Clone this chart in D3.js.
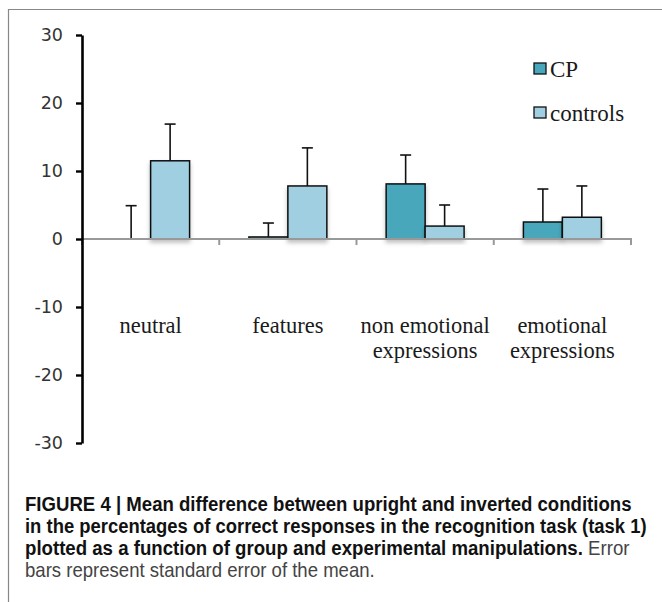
<!DOCTYPE html>
<html>
<head>
<meta charset="utf-8">
<script src="https://cdn.jsdelivr.net/npm/d3@7"></script>
<style>
  body { margin: 0; background: #fff; }
  svg { display: block; }
</style>
</head>
<body>
<svg id="chart" width="662" height="602"></svg>
<script>
// data
var categories = ["neutral", "features", "non emotional expressions", "emotional expressions"];
var categoryLines = [["neutral"], ["features"], ["non emotional", "expressions"], ["emotional", "expressions"]];
var groups = ["CP", "controls"];
var cpMeans = [0, 0.3, 8.1, 2.5];
var cpErrors = [4.9, 2.05, 4.25, 4.85];
var controlsMeans = [11.5, 7.8, 1.9, 3.2];
var controlsErrors = [5.4, 5.6, 3.1, 4.6];
var yTicks = [-30, -20, -10, 0, 10, 20, 30];
var captionLines = [
  [{ t: "FIGURE 4 | Mean difference between upright and inverted conditions", b: true }],
  [{ t: "in the percentages of correct responses in the recognition task (task 1)", b: true }],
  [{ t: "plotted as a function of group and experimental manipulations.", b: true }, { t: " Error", b: false }],
  [{ t: "bars represent standard error of the mean.", b: false }]
];

var colors = { CP: "#49a7bc", controls: "#9fcfe1" };

var svg = d3.select("#chart");

// frame (top + left edges only, like the cropped figure)
svg.append("path")
  .attr("d", "M8.5,602V9.5H662")
  .attr("fill", "none")
  .attr("stroke", "#888")
  .attr("stroke-width", 1.2);

// scales
var y = d3.scaleLinear().domain([-30, 30]).range([443, 35]);
var x0 = d3.scaleBand()
  .domain(categories)
  .range([82, 631])
  .paddingInner(0.432)
  .paddingOuter(0.216);
var x1 = d3.scaleBand().domain(groups).range([0, x0.bandwidth()]);

// soft shadow under bars
var defs = svg.append("defs");
var f = defs.append("filter").attr("id", "shadow")
  .attr("x", "-20%").attr("y", "-20%").attr("width", "140%").attr("height", "160%");
f.append("feDropShadow")
  .attr("dx", 0).attr("dy", 3).attr("stdDeviation", 2)
  .attr("flood-color", "#000").attr("flood-opacity", 0.25);

// rows per bar
var rows = [];
categories.forEach(function (c, i) {
  rows.push({ cat: c, group: "CP", mean: cpMeans[i], err: cpErrors[i] });
  rows.push({ cat: c, group: "controls", mean: controlsMeans[i], err: controlsErrors[i] });
});

// error bars (only upper half)
var eb = svg.append("g").attr("class", "errors");
rows.forEach(function (d) {
  var cx = x0(d.cat) + x1(d.group) + x1.bandwidth() / 2;
  eb.append("line")
    .attr("x1", cx).attr("x2", cx)
    .attr("y1", y(d.mean)).attr("y2", y(d.mean + d.err))
    .attr("stroke", "#111").attr("stroke-width", 1.6);
  eb.append("line")
    .attr("x1", cx - 5.5).attr("x2", cx + 5.5)
    .attr("y1", y(d.mean + d.err)).attr("y2", y(d.mean + d.err))
    .attr("stroke", "#111").attr("stroke-width", 1.6);
});

// bars
svg.append("g")
  .attr("class", "bars")
  .selectAll("rect")
  .data(rows)
  .enter()
  .append("rect")
  .attr("x", function (d) { return x0(d.cat) + x1(d.group); })
  .attr("y", function (d) { return y(Math.max(0, d.mean)); })
  .attr("width", x1.bandwidth())
  .attr("height", function (d) { return Math.abs(y(d.mean) - y(0)); })
  .attr("fill", function (d) { return colors[d.group]; })
  .attr("stroke", "#111")
  .attr("stroke-width", 1.5)
  .attr("filter", "url(#shadow)");

// x axis: gray baseline with category separators
var xa = svg.append("g").attr("class", "x-axis");
var r = x0.range();
xa.append("line")
  .attr("x1", r[0]).attr("x2", r[1] + 1)
  .attr("y1", y(0)).attr("y2", y(0))
  .attr("stroke", "#999").attr("stroke-width", 2);
xa.selectAll(".sep")
  .data(d3.range(categories.length + 1))
  .enter()
  .append("line")
  .attr("class", "sep")
  .attr("x1", function (i) { return r[0] + i * x0.step(); })
  .attr("x2", function (i) { return r[0] + i * x0.step(); })
  .attr("y1", y(0)).attr("y2", y(0) + 6)
  .attr("stroke", "#999").attr("stroke-width", 2);

// category labels (below, in the negative region)
var labels = svg.append("g").attr("class", "cat-labels")
  .attr("font-family", "'Liberation Serif', 'DejaVu Serif', serif")
  .attr("font-size", 22.5)
  .attr("fill", "#1a1a1a")
  .attr("text-anchor", "middle");
categories.forEach(function (c, i) {
  var t = labels.append("text")
    .attr("x", x0(c) + x0.bandwidth() / 2)
    .attr("y", 333);
  categoryLines[i].forEach(function (line, j) {
    t.append("tspan")
      .attr("x", x0(c) + x0.bandwidth() / 2)
      .attr("dy", j === 0 ? 0 : 25)
      .text(line);
  });
});

// y axis
var yAxis = d3.axisLeft(y)
  .tickValues(yTicks)
  .tickFormat(function (d) { return String(d); })
  .tickSize(6)
  .tickSizeOuter(0)
  .tickPadding(13);
var ya = svg.append("g")
  .attr("transform", "translate(82,0)")
  .call(yAxis);
ya.select(".domain").attr("stroke", "#000").attr("stroke-width", 2.6);
ya.selectAll(".tick line").attr("stroke", "#000").attr("stroke-width", 2.4);
ya.selectAll(".tick text")
  .attr("font-family", "'DejaVu Sans', Verdana, sans-serif")
  .attr("font-size", 17.5)
  .attr("fill", "#333");

// legend
var legend = svg.append("g").attr("class", "legend")
  .selectAll("g")
  .data(groups)
  .enter()
  .append("g")
  .attr("transform", function (d, i) { return "translate(534," + (63 + i * 44) + ")"; });
legend.append("rect")
  .attr("width", 12).attr("height", 11)
  .attr("fill", function (d) { return colors[d]; })
  .attr("stroke", "#111").attr("stroke-width", 1.3);
legend.append("text")
  .attr("x", 16).attr("y", 14)
  .attr("font-family", "'Liberation Serif', 'DejaVu Serif', serif")
  .attr("font-size", 23)
  .attr("fill", "#1a1a1a")
  .text(function (d) { return d; });

// caption, squeezed to the narrow face of the original
var capEnds = [632, 647, 630, 375];
var capBase = [511, 533, 555, 577];
captionLines.forEach(function (parts, i) {
  var g = svg.append("g");
  var t = g.append("text")
    .attr("font-family", "'Liberation Sans', Arial, sans-serif")
    .attr("font-size", 20.5);
  parts.forEach(function (p) {
    t.append("tspan")
      .attr("font-weight", p.b ? "bold" : "normal")
      .attr("fill", p.b ? "#111" : "#444")
      .text(p.t);
  });
  var w = t.node().getComputedTextLength();
  var sx = (capEnds[i] - 25) / w;
  g.attr("transform", "translate(25," + capBase[i] + ") scale(" + sx + ",1)");
});
</script>
</body>
</html>
